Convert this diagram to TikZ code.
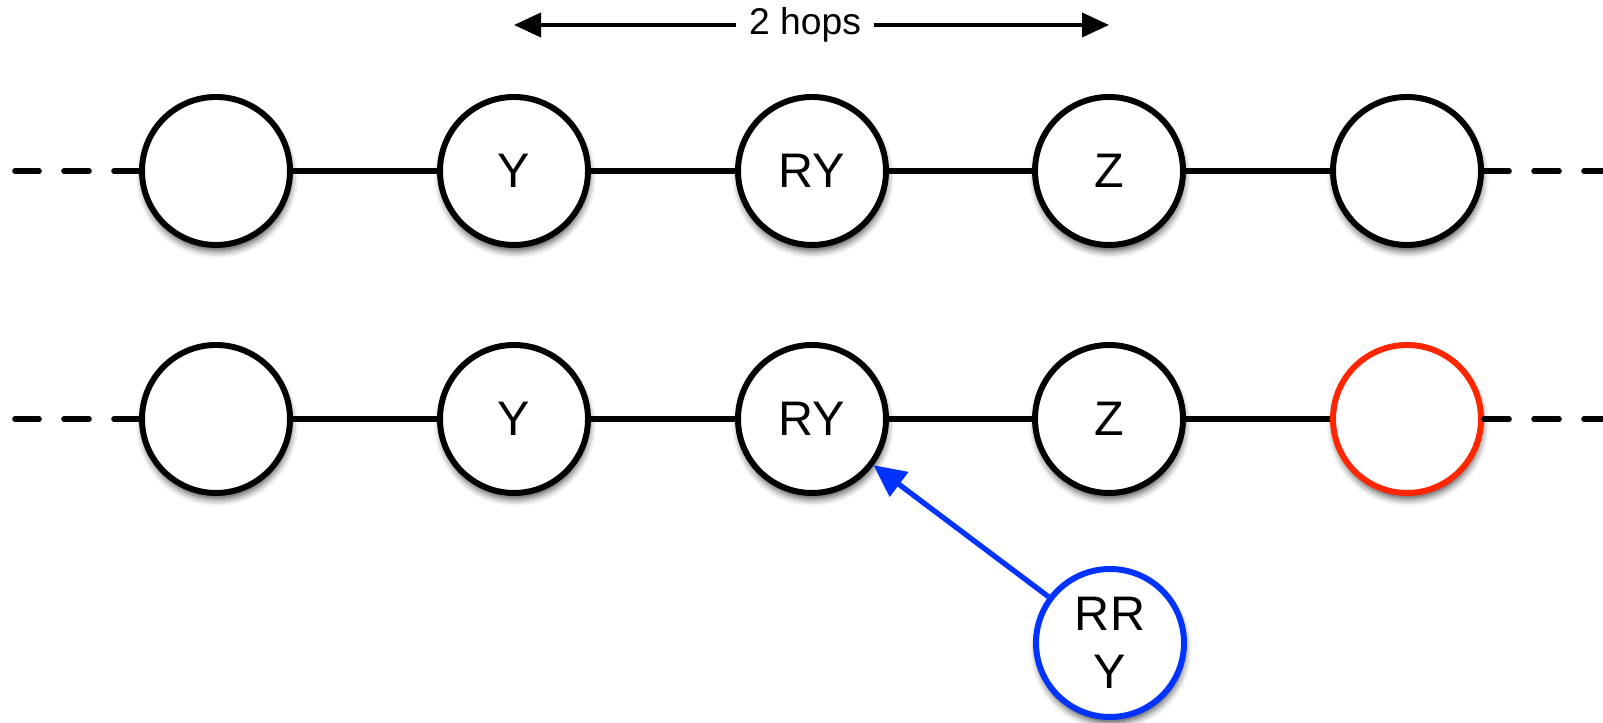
\documentclass[tikz,border=0pt]{standalone}
\usepackage{fontspec}
\setmainfont{Liberation Sans}
\usepackage{xcolor}
\usetikzlibrary{arrows.meta,shadows.blur}

\definecolor{hopred}{RGB}{255,38,0}
\definecolor{hopblue}{RGB}{0,51,255}

\begin{document}
\begin{tikzpicture}[
  peer/.style={draw, circle, line width=1.7pt, fill=white, minimum size=1.48cm, inner sep=0pt,
    font=\fontsize{13.8}{16.4}\selectfont,
    blur shadow={shadow xshift=0.01cm, shadow yshift=-0.06cm, shadow blur radius=0.07cm, shadow opacity=70}},
  link/.style={line width=1.6pt},
  stub/.style={line width=1.6pt, line cap=round, dash pattern=on 0.25cm off 0.25cm}
]
\useasboundingbox (0,0) rectangle (16.03,7.23);

% hop distance
\node[inner sep=0.12cm, font=\fontsize{10.6}{13}\selectfont] (hops) at (8.05,6.98) {2 hops};
\coordinate (hopl) at (5.14,6.98);
\coordinate (hopr) at (11.09,6.98);
\draw[line width=1.1pt, -{Triangle[length=0.27cm,width=0.24cm]}] (hops) -- (hopl);
\draw[line width=1.1pt, -{Triangle[length=0.27cm,width=0.24cm]}] (hops) -- (hopr);

% upper ring
\node[peer] (lft1) at (2.16,5.52) {};
\node[peer] (y1) at (5.14,5.52) {Y};
\node[peer] (ry1) at (8.12,5.52) {RY};
\node[peer] (z1) at (11.09,5.52) {Z};
\node[peer] (rgt1) at (14.07,5.52) {};
\coordinate (endl1) at (0.15,5.52);
\coordinate (endr1) at (16.03,5.52);
\draw[link] (lft1) -- (y1) (y1) -- (ry1) (ry1) -- (z1) (z1) -- (rgt1);
\draw[stub] (lft1.west) -- (endl1);
\draw[stub] (rgt1.east) -- (endr1);

% lower ring
\node[peer] (lft2) at (2.16,3.04) {};
\node[peer] (y2) at (5.14,3.04) {Y};
\node[peer] (ry2) at (8.12,3.04) {RY};
\node[peer] (z2) at (11.09,3.04) {Z};
\node[peer, draw=hopred] (rgt2) at (14.07,3.04) {};
\coordinate (endl2) at (0.15,3.04);
\coordinate (endr2) at (16.03,3.04);
\draw[link] (lft2) -- (y2) (y2) -- (ry2) (ry2) -- (z2) (z2) -- (rgt2);
\draw[stub] (lft2.west) -- (endl2);
\draw[stub] (rgt2.east) -- (endr2);

% joining node
\node[peer, draw=hopblue, align=center] (rry) at (11.10,0.80) {RR\\Y};
\draw[hopblue, line width=1.5pt, -{Triangle[length=0.32cm,width=0.3cm]}] (rry) -- (ry2);
\end{tikzpicture}
\end{document}
